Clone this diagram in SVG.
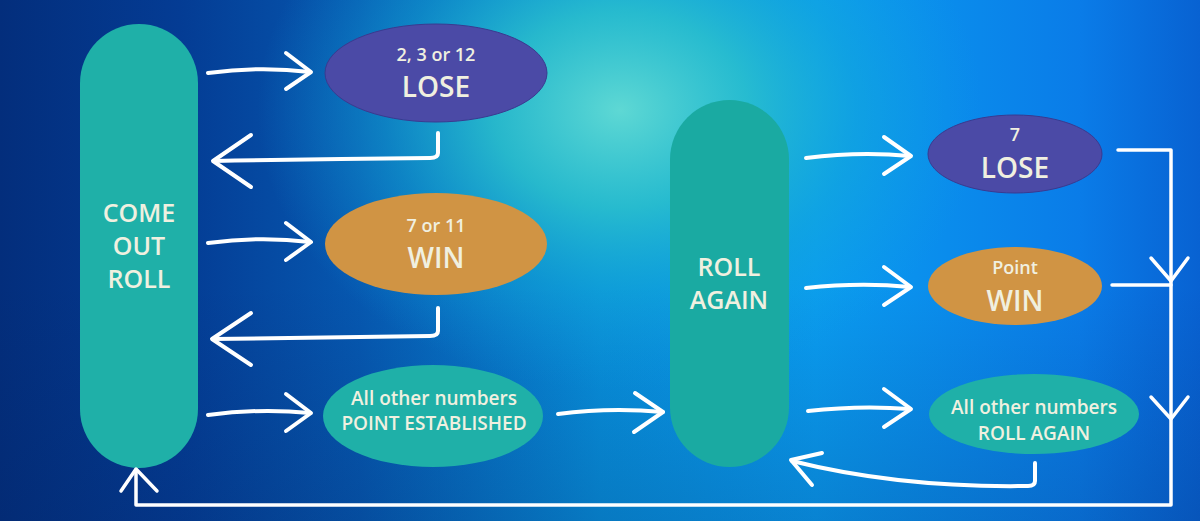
<svg xmlns="http://www.w3.org/2000/svg" width="1200" height="521" viewBox="0 0 1200 521">
<defs>
<linearGradient id="bg" x1="0" y1="0" x2="1" y2="0">
<stop offset="0" stop-color="#032e7c"/>
<stop offset="0.15" stop-color="#043c94"/>
<stop offset="0.3" stop-color="#0658b0"/>
<stop offset="0.5" stop-color="#0890dc"/>
<stop offset="0.68" stop-color="#0a9cf0"/>
<stop offset="0.9" stop-color="#0a7ce8"/>
<stop offset="1" stop-color="#0862d2"/>
</linearGradient>
<radialGradient id="glow" cx="620" cy="110" r="330" gradientUnits="userSpaceOnUse" gradientTransform="translate(620 110) scale(1.1 0.85) translate(-620 -110)">
<stop offset="0" stop-color="#5ed8d4" stop-opacity="1"/>
<stop offset="0.35" stop-color="#2cc2cc" stop-opacity="0.85"/>
<stop offset="0.65" stop-color="#16acd4" stop-opacity="0.45"/>
<stop offset="1" stop-color="#10a0e0" stop-opacity="0"/>
</radialGradient>
<linearGradient id="shade" x1="0" y1="0" x2="0" y2="1">
<stop offset="0.55" stop-color="#03205a" stop-opacity="0"/>
<stop offset="1" stop-color="#03205a" stop-opacity="0.2"/>
</linearGradient>
</defs>
<style>
.txt{font-family:"Open Sans","Liberation Sans",sans-serif;fill:#f0f0e0;text-anchor:middle;font-weight:600}
.big{font-size:28px}
.mid{font-size:25px}
.sm{font-size:18px}
.lbl{font-size:19px}
.pill{fill:#1fb0a8}
.teal{fill:#1fb0a8}
.purple{fill:#4b4aa6;stroke:#3a3a90;stroke-width:1}
.orange{fill:#d09444}
.arr{fill:none;stroke:#ffffff;stroke-width:4;stroke-linecap:round;stroke-linejoin:round}
</style>
<rect width="1200" height="521" fill="url(#bg)"/>
<rect width="1200" height="521" fill="url(#glow)"/>
<rect width="1200" height="521" fill="url(#shade)"/>

<g id="come-out-roll">
<rect class="pill" x="80" y="24" width="118" height="444" rx="59"/>
<text class="txt mid" x="139" y="222">COME</text>
<text class="txt mid" x="139" y="255">OUT</text>
<text class="txt mid" x="139" y="288">ROLL</text>
</g>

<g id="lose-1">
<ellipse class="purple" cx="436" cy="73" rx="111" ry="49"/>
<text class="txt sm" x="436" y="61">2, 3 or 12</text>
<text class="txt big" x="436" y="97">LOSE</text>
</g>

<g id="win-1">
<ellipse class="orange" cx="436" cy="244" rx="111" ry="51"/>
<text class="txt sm" x="436" y="232">7 or 11</text>
<text class="txt big" x="436" y="268">WIN</text>
</g>

<g id="point-established">
<ellipse class="teal" cx="433" cy="416" rx="110" ry="51"/>
<text class="txt lbl" x="434" y="405">All other numbers</text>
<text class="txt lbl" x="434" y="430">POINT ESTABLISHED</text>
</g>

<g id="roll-again">
<rect class="pill" x="670" y="100" width="119" height="367" rx="59.5" style="fill:#1aaaa2"/>
<text class="txt mid" x="729" y="276">ROLL</text>
<text class="txt mid" x="729" y="309">AGAIN</text>
</g>

<g id="lose-2">
<ellipse class="purple" cx="1015" cy="154" rx="87" ry="39"/>
<text class="txt sm" x="1015" y="141">7</text>
<text class="txt big" x="1015" y="178">LOSE</text>
</g>

<g id="win-2">
<ellipse class="orange" cx="1015" cy="286" rx="87" ry="39"/>
<text class="txt sm" x="1015" y="274">Point</text>
<text class="txt big" x="1015" y="311">WIN</text>
</g>

<g id="roll-again-result">
<ellipse class="teal" cx="1034" cy="414" rx="105" ry="40"/>
<text class="txt lbl" x="1034" y="414">All other numbers</text>
<text class="txt lbl" x="1034" y="440">ROLL AGAIN</text>
</g>

<g id="connectors">
<path class="arr" d="M208,73 Q260,66 310,72"/>
<path class="arr" d="M286,53 L311,72 L286,89"/>
<path class="arr" d="M208,243 Q260,236 310,242"/>
<path class="arr" d="M286,223 L311,242 L286,260"/>
<path class="arr" d="M208,415 Q260,408 310,413"/>
<path class="arr" d="M286,394 L311,413 L286,431"/>
<path class="arr" d="M438,133 L438,153 Q438,158 430,158 Q320,159 214,161"/>
<path class="arr" d="M251,135 L213,161 L251,187"/>
<path class="arr" d="M438,308 L438,331 Q438,336 430,336 Q320,338 213,339"/>
<path class="arr" d="M251,313 L212,339 L251,365"/>
<path class="arr" d="M558,414 Q610,407 663,412"/>
<path class="arr" d="M635,393 L663,412 L634,432"/>
<path class="arr" d="M806,158 Q860,151 910,156"/>
<path class="arr" d="M884,137 L911,156 L884,174"/>
<path class="arr" d="M806,288 Q860,282 910,287"/>
<path class="arr" d="M884,267 L911,287 L884,305"/>
<path class="arr" d="M808,411 Q860,405 910,409"/>
<path class="arr" d="M884,389 L911,409 L884,427"/>
<path class="arr" d="M1035,463 L1035,481 Q1035,486 1028,486 Q900,488 792,461"/>
<path class="arr" d="M822,453 L791,460 L812,485"/>
<path class="arr" style="stroke-width:3.5" d="M1118,150 L1171,150 L1171,505 L136,505 L136,470"/>
<path class="arr" style="stroke-width:3.5" d="M121,491 L136,469 L157,491"/>
<path class="arr" style="stroke-width:3.5" d="M1112,285 L1171,285"/>
<path class="arr" style="stroke-width:3.5" d="M1151,258 L1171,281 L1188,258"/>
<path class="arr" style="stroke-width:3.5" d="M1151,397 L1171,419 L1188,397"/>
</g>
</svg>
